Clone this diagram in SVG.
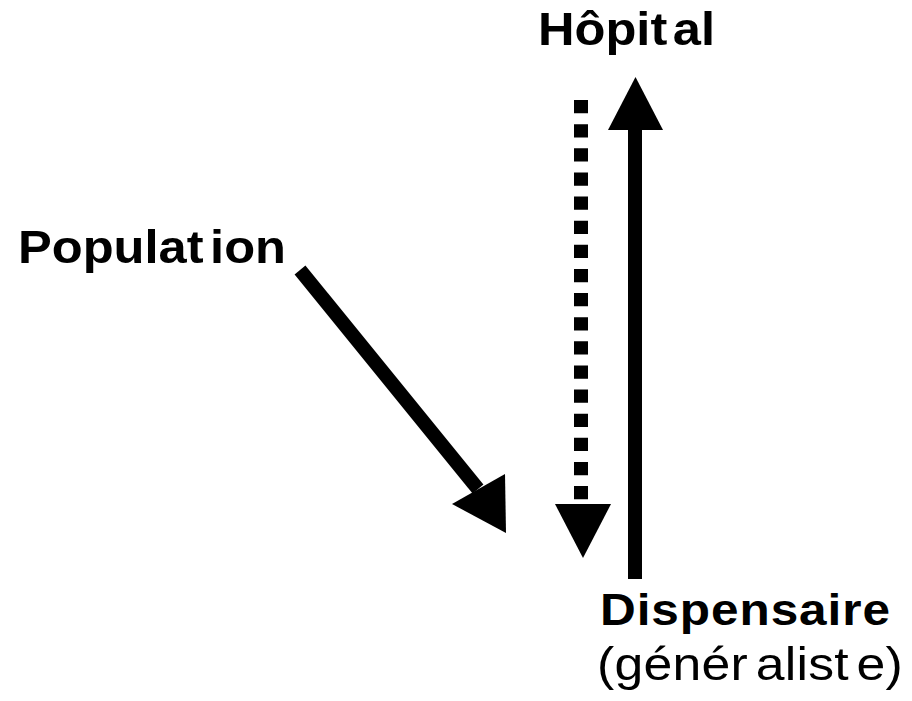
<svg xmlns="http://www.w3.org/2000/svg" width="912" height="701" viewBox="0 0 912 701">
<style>
.lb{font-family:"Liberation Sans",Arial,sans-serif;font-size:46px;fill:#000}
.b{font-weight:bold}
.sh{stroke:#000;stroke-width:14;fill:none}
.hd{fill:#000;stroke:none}
</style>
<rect width="912" height="701" fill="#fff"/>
<g id="node-hopital"><text class="lb b" transform="translate(538,45) scale(1.1,1)" x="0" y="0">Hôpit<tspan dx="5">al</tspan></text></g>
<g id="node-population"><text class="lb b" transform="translate(18,263) scale(1.1,1)" x="0" y="0">Populat<tspan dx="6">ion</tspan></text></g>
<g id="node-dispensaire">
<text class="lb b" style="font-size:45px" transform="translate(600,625) scale(1.1,1)" x="0" y="0" textLength="263.6" lengthAdjust="spacing">Dispensaire</text>
<text class="lb" style="font-size:47px" transform="translate(597,680) scale(1.1,1)" x="0" y="0" textLength="278" lengthAdjust="spacing">(génér<tspan dx="7">alist</tspan><tspan dx="7">e)</tspan></text>
</g>
<g id="connectors">
<g id="pop-to-disp">
<line class="sh" x1="300" y1="270" x2="478" y2="489"/>
<polygon class="hd" points="452,504 505,474 506,533"/>
</g>
<g id="hop-to-disp">
<line class="sh" x1="581" y1="100" x2="581" y2="500" stroke-dasharray="13.3 10.825"/>
<polygon class="hd" points="555,504 611,504 583,558"/>
</g>
<g id="disp-to-hop">
<line class="sh" x1="635" y1="579" x2="635" y2="128"/>
<polygon class="hd" points="608,130 663,130 635.5,77"/>
</g>
</g>
</svg>
